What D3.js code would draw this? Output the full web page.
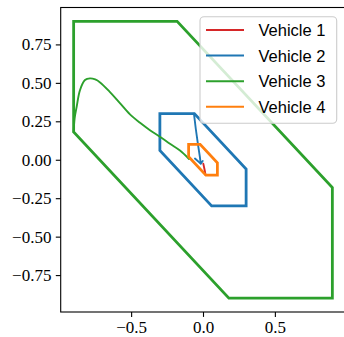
<!DOCTYPE html>
<html><head><meta charset="utf-8">
<script src="https://cdn.jsdelivr.net/npm/d3@7"></script>
<style>body{margin:0;background:#fff}svg{display:block}</style>
</head><body>
<script>
// ---- data ----
const vehicles = ["Vehicle 1", "Vehicle 2", "Vehicle 3", "Vehicle 4"];
const colors = ["#d62728", "#1f77b4", "#2ca02c", "#ff7f0e"];
const xTicks = [-0.5, 0.0, 0.5];
const yTicks = [-0.75, -0.5, -0.25, 0.0, 0.25, 0.5, 0.75];
const xDomain = [-0.99, 0.99];
const yDomain = [-0.99, 0.99];
// reachable-set polygons (vehicle 1 has none visible)
const polyV2 = [[-0.3,0.3],[-0.06,0.3],[0.3,-0.06],[0.3,-0.3],[0.06,-0.3],[-0.3,0.06]];
const polyV3 = [[-0.9,0.9],[-0.18,0.9],[0.9,-0.18],[0.9,-0.9],[0.18,-0.9],[-0.9,0.18]];
const polyV4 = [[-0.1,0.1],[-0.02,0.1],[0.1,-0.02],[0.1,-0.1],[0.02,-0.1],[-0.1,0.02]];
// trajectories
const trajV1 = [[0.018,-0.1],[0.01,-0.06],[0.002,-0.025]];
const trajV2 = [[-0.063,0.3],[-0.05,0.2],[-0.035,0.1],[-0.022,0.02],[-0.016,-0.025],[-0.002,-0.008]];
const trajV2b = [[-0.056,0.008],[-0.016,-0.025]];
const trajV3 = [[-0.9,0.18],[-0.893,0.27],[-0.879,0.344],[-0.856,0.452],[-0.821,0.518],[-0.786,0.529],[-0.75,0.522],[-0.716,0.503],[-0.647,0.44],[-0.578,0.368],[-0.508,0.295],[-0.438,0.24],[-0.369,0.192],[-0.30,0.15],[-0.23,0.104],[-0.16,0.06],[-0.097,0.005]];
const trajV4 = [];

// ---- layout ----
const W = 344, H = 337;
const L = 60.7, R = 345.3, T = 7.5, B = 312;
const svg = d3.select("body").append("svg").attr("width", W).attr("height", H);
const x = d3.scaleLinear().domain(xDomain).range([L, R]);
const y = d3.scaleLinear().domain(yDomain).range([B, T]);

svg.append("clipPath").attr("id","clip").append("rect")
  .attr("x", L).attr("y", T).attr("width", R-L).attr("height", B-T);
const g = svg.append("g").attr("clip-path","url(#clip)");

const line = d3.line().x(d=>x(d[0])).y(d=>y(d[1]));
const smooth = d3.line().x(d=>x(d[0])).y(d=>y(d[1])).curve(d3.curveCatmullRom.alpha(0.5));
const closed = d3.line().x(d=>x(d[0])).y(d=>y(d[1])).curve(d3.curveLinearClosed);

function traj(data, c, f) {
  if (!data.length) return;
  g.append("path").attr("d", (f||line)(data)).attr("fill","none")
   .attr("stroke", c).attr("stroke-width", 1.9).attr("stroke-linejoin","round").attr("stroke-linecap","round");
}
function poly(data, c) {
  g.append("path").attr("d", closed(data)).attr("fill","none")
   .attr("stroke", c).attr("stroke-width", 2.8).attr("stroke-linejoin","miter");
}
traj(trajV1, colors[0]);
traj(trajV2, colors[1]); traj(trajV2b, colors[1]); poly(polyV2, colors[1]);
traj(trajV3, colors[2], smooth); poly(polyV3, colors[2]);
traj(trajV4, colors[3]); poly(polyV4, colors[3]);

// ---- axes ----
const tickFont = "'Liberation Serif', 'DejaVu Serif', serif";
const ax = svg.append("g").attr("transform", `translate(0,${B})`)
  .call(d3.axisBottom(x).tickValues(xTicks).tickSize(4.9).tickPadding(4.4)
        .tickFormat(v => (v<0?"\u2212":"") + Math.abs(v).toFixed(1)));
const ay = svg.append("g").attr("transform", `translate(${L},0)`)
  .call(d3.axisLeft(y).tickValues(yTicks).tickSize(4.9).tickPadding(4.4)
        .tickFormat(v => (v<0?"\u2212":"") + Math.abs(v).toFixed(2)));
[ax, ay].forEach(a => {
  a.select(".domain").remove();
  a.selectAll("line").attr("stroke","#000").attr("stroke-width",1.1);
  a.selectAll("text").attr("font-family", tickFont).attr("font-size", 17).attr("fill","#000");
});
svg.append("rect").attr("x", L).attr("y", T).attr("width", R-L).attr("height", B-T)
  .attr("fill","none").attr("stroke","#000").attr("stroke-width",1.1);

// ---- legend ----
const lg = svg.append("g");
lg.append("rect").attr("x", 200).attr("y", 16.7).attr("width", 136.7).attr("height", 106.6)
  .attr("rx", 4).attr("fill", "#fff").attr("fill-opacity", 0.8)
  .attr("stroke", "#cccccc").attr("stroke-width", 1.1);
vehicles.forEach((v, i) => {
  const yy = 30 + i * 25.6;
  lg.append("line").attr("x1", 206).attr("x2", 244).attr("y1", yy).attr("y2", yy)
    .attr("stroke", colors[i]).attr("stroke-width", 2);
  lg.append("text").attr("x", 258.5).attr("y", yy).attr("dy", "0.36em")
    .attr("font-family", "'Liberation Sans', Arial, sans-serif").attr("font-size", 16.5)
    .attr("fill", "#000").text(v);
});
</script>
</body></html>
